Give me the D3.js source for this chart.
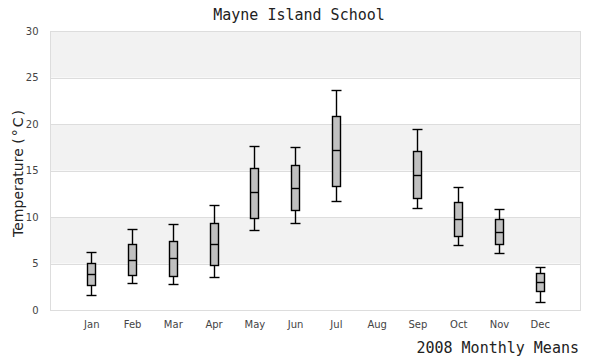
<!DOCTYPE html>
<html>
<head>
<meta charset="utf-8">
<script src="https://cdn.jsdelivr.net/npm/d3@7"></script>
<style>
  html, body { margin: 0; padding: 0; background: #fff; }
  svg { display: block; }
</style>
</head>
<body>
<svg id="chart" width="600" height="360"></svg>
<script>
const months = ["Jan","Feb","Mar","Apr","May","Jun","Jul","Aug","Sep","Oct","Nov","Dec"];
const whiskerLow  = [1.6, 2.9, 2.8, 3.5, 8.6,  9.4, 11.7, null, 11.0, 7.0, 6.1, 0.9];
const q1          = [2.7, 3.8, 3.7, 4.8, 9.9, 10.7, 13.3, null, 12.0, 8.0, 7.1, 2.0];
const median      = [3.9, 5.4, 5.6, 7.1, 12.7, 13.1, 17.2, null, 14.5, 9.8, 8.4, 3.0];
const q3          = [5.1, 7.1, 7.4, 9.4, 15.3, 15.6, 20.9, null, 17.1, 11.6, 9.8, 4.0];
const whiskerHigh = [6.2, 8.7, 9.3, 11.3, 17.6, 17.5, 23.7, null, 19.5, 13.2, 10.9, 4.6];
const yTicks = [0, 5, 10, 15, 20, 25, 30];
const title = "Mayne Island School";
const xTitle = "2008 Monthly Means";
const yTitleMain = "Temperature";
const yTitleUnit = "(°C)";

(function () {
const svg = d3.select("#chart");
const pLeft = 50.5, pRight = 580.5, pTop = 31, pBottom = 310;

const x = d3.scaleLinear().domain([0, months.length + 1]).range([pLeft, pRight]);
const y = d3.scaleLinear().domain([0, 30]).range([pBottom, pTop]);

// alternating bands
const bands = d3.range(0, 30, 5).map(v => ({lo: v, hi: v + 5, alt: (v / 5) % 2 === 1}));
svg.append("g").selectAll("rect").data(bands).join("rect")
  .attr("x", pLeft).attr("width", pRight - pLeft)
  .attr("y", d => y(d.hi)).attr("height", d => y(d.lo) - y(d.hi))
  .attr("fill", d => d.alt ? "#f2f2f2" : "#ffffff");

// gridlines
svg.append("g").selectAll("line").data(yTicks).join("line")
  .attr("x1", pLeft).attr("x2", pRight)
  .attr("y1", d => Math.round(y(d)) + 0.5).attr("y2", d => Math.round(y(d)) + 0.5)
  .attr("stroke", "#dddddd").attr("stroke-width", 1);

// border
svg.append("rect")
  .attr("x", pLeft).attr("y", Math.round(y(30)) + 0.5)
  .attr("width", pRight - pLeft).attr("height", Math.round(y(0)) - Math.round(y(30)))
  .attr("fill", "none").attr("stroke", "#dddddd");

// y axis
const yAxis = d3.axisLeft(y).tickValues(yTicks).tickSize(0).tickPadding(0);
const gy = svg.append("g").attr("transform", `translate(${pLeft - 12},0)`).call(yAxis);
gy.select(".domain").remove();
gy.selectAll("text").attr("font-family", "DejaVu Sans, sans-serif").attr("font-size", 10).attr("fill", "#444");

// x axis
const xAxis = d3.axisBottom(x).tickValues(d3.range(1, months.length + 1))
  .tickFormat(i => months[i - 1]).tickSize(0).tickPadding(0);
const gx = svg.append("g").attr("transform", `translate(0,${pBottom + 11})`).call(xAxis);
gx.select(".domain").remove();
gx.selectAll("text").attr("font-family", "DejaVu Sans, sans-serif").attr("font-size", 10).attr("fill", "#444");

// boxes
const data = months.map((m, i) => ({
  i: i + 1, lo: whiskerLow[i], q1: q1[i], med: median[i], q3: q3[i], hi: whiskerHigh[i]
})).filter(d => d.med !== null);

const bw = 8, cw = 10;
const g = svg.append("g").attr("stroke", "#000").attr("stroke-width", 1.4);
const snap = v => Math.round(v) + 0.5;
data.forEach(d => {
  const cx = Math.round(x(d.i)) + 0.5;
  g.append("line").attr("x1", cx).attr("x2", cx).attr("y1", snap(y(d.hi))).attr("y2", snap(y(d.lo)));
  g.append("line").attr("x1", cx - cw / 2).attr("x2", cx + cw / 2).attr("y1", snap(y(d.hi))).attr("y2", snap(y(d.hi)));
  g.append("line").attr("x1", cx - cw / 2).attr("x2", cx + cw / 2).attr("y1", snap(y(d.lo))).attr("y2", snap(y(d.lo)));
  g.append("rect").attr("x", cx - bw / 2).attr("width", bw)
    .attr("y", snap(y(d.q3))).attr("height", snap(y(d.q1)) - snap(y(d.q3)))
    .attr("fill", "#c0c0c0");
  g.append("line").attr("x1", cx - bw / 2).attr("x2", cx + bw / 2).attr("y1", snap(y(d.med))).attr("y2", snap(y(d.med)));
});

// titles
svg.append("text").attr("x", 299).attr("y", 20).attr("text-anchor", "middle")
  .attr("font-family", "DejaVu Sans Mono, monospace").attr("font-size", 15).attr("fill", "#222")
  .text(title);
svg.append("text").attr("x", 579).attr("y", 353).attr("text-anchor", "end")
  .attr("font-family", "DejaVu Sans Mono, monospace").attr("font-size", 15).attr("fill", "#222")
  .text(xTitle);
const yt = svg.append("text").attr("transform", `translate(23,${(pTop + pBottom) / 2 + 2}) rotate(-90)`)
  .attr("text-anchor", "middle")
  .attr("font-family", "DejaVu Sans, sans-serif").attr("font-size", 14).attr("fill", "#222");
yt.append("tspan").text(yTitleMain + " ");
yt.append("tspan").attr("letter-spacing", 2).text(yTitleUnit);
})();
</script>
</body>
</html>
